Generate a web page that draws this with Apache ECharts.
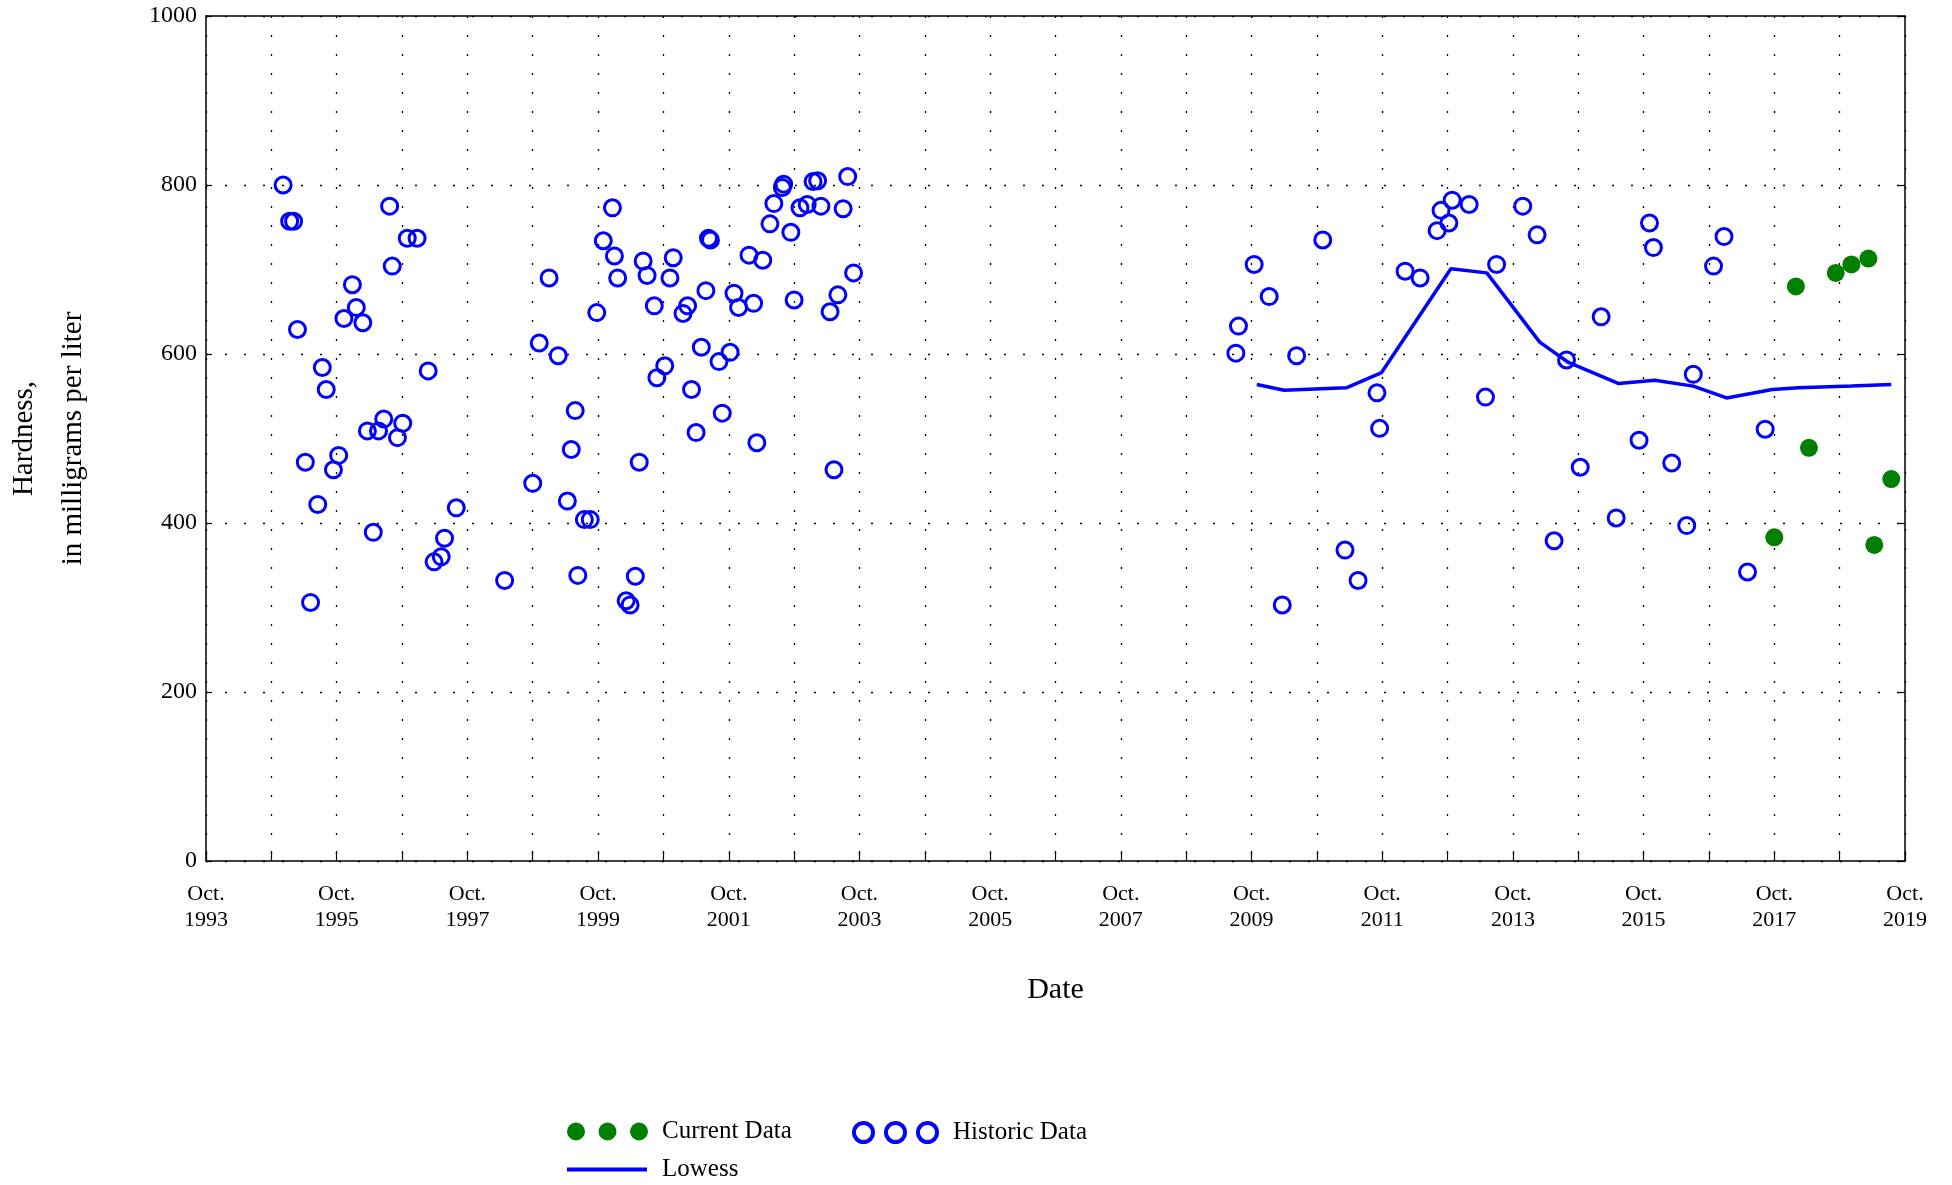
<!DOCTYPE html>
<html>
<head>
<meta charset="utf-8">
<script src="https://cdn.jsdelivr.net/npm/echarts@6/dist/echarts.min.js"></script>
<style>
html,body{margin:0;padding:0;background:#ffffff;}
#chart{width:1952px;height:1185px;}
</style>
</head>
<body>
<div id="chart"></div>
<script>
// ---- Data (dates as decimal years, values in mg/L) ----
const historicDates = [
  1994.93, 1995.03, 1995.09, 1995.15, 1995.27, 1995.35, 1995.46, 1995.53, 1995.59, 1995.70,
  1995.78, 1995.86, 1995.99, 1996.05, 1996.15, 1996.22, 1996.31, 1996.39, 1996.47, 1996.56,
  1996.60, 1996.68, 1996.76, 1996.83, 1996.98, 1997.15, 1997.24, 1997.35, 1997.40, 1997.58,
  1998.32, 1998.75, 1998.85, 1999.00, 1999.14, 1999.28, 1999.34, 1999.40, 1999.44, 1999.54,
  1999.63, 1999.73, 1999.83, 1999.97, 2000.00, 2000.05, 2000.18, 2000.24, 2000.32, 2000.38,
  2000.44, 2000.50, 2000.61, 2000.65, 2000.77, 2000.85, 2000.90, 2001.05, 2001.12, 2001.18,
  2001.25, 2001.33, 2001.40, 2001.44, 2001.47, 2001.60, 2001.65, 2001.77, 2001.83, 2001.90,
  2002.06, 2002.13, 2002.18, 2002.27, 2002.38, 2002.44, 2002.57, 2002.59, 2002.70, 2002.75,
  2002.84, 2002.95, 2003.04, 2003.11, 2003.16, 2003.30, 2003.36, 2003.42, 2003.50, 2003.57,
  2003.66,
  2009.51, 2009.55, 2009.79, 2010.02, 2010.22, 2010.44, 2010.84, 2011.18, 2011.38, 2011.67,
  2011.71, 2012.10, 2012.33, 2012.59, 2012.65, 2012.77, 2012.82, 2013.08, 2013.33, 2013.50,
  2013.90, 2014.12, 2014.38, 2014.57, 2014.78, 2015.10, 2015.33, 2015.68, 2015.84, 2015.90,
  2016.18, 2016.41, 2016.51, 2016.82, 2016.98, 2017.34, 2017.61
];
const historicValues = [
  800, 757, 757, 629, 472, 306, 422, 584, 558, 463,
  480, 642, 682, 655, 637, 509, 389, 509, 523, 775,
  704, 501, 518, 737, 737, 580, 354, 360, 382, 418,
  332, 447, 613, 690, 598, 426, 487, 533, 338, 404,
  404, 649, 734, 773, 716, 690, 308, 303, 337, 472,
  710, 693, 657, 572, 586, 690, 714, 648, 657, 558,
  507, 608, 675, 737, 735, 591, 530, 602, 672, 655,
  717, 660, 495, 711, 754, 778, 797, 801, 744, 664,
  773, 777, 804, 805, 775, 650, 463, 670, 772, 810,
  696,
  601, 633, 706, 668, 303, 598, 735, 368, 332, 554,
  512, 698, 690, 746, 770, 755, 782, 777, 549, 706,
  775, 741, 379, 593, 466, 644, 406, 498, 755, 726,
  471, 397, 576, 704, 739, 342, 511
];
const currentDates  = [2017.75, 2018.08, 2018.28, 2018.69, 2018.93, 2019.19, 2019.28, 2019.54];
const currentValues = [383, 680, 489, 696, 706, 713, 374, 452];
const lowessDates  = [2009.83, 2010.25, 2011.20, 2011.74, 2012.80, 2013.35, 2014.16, 2014.60,
                      2015.37, 2015.92, 2016.51, 2017.02, 2017.72, 2018.12, 2018.93, 2019.54];
const lowessValues = [564, 557, 560, 578, 701, 696, 614, 590,
                      565, 569, 562, 548, 558, 560, 562, 564];
const xTickStartYear = 1993;   // first tick: Oct. 1993
const xTickEndYear = 2019;     // last tick: Oct. 2019
const yTickValues = [0, 200, 400, 600, 800, 1000];
const seriesNames = ['Current Data', 'Historic Data', 'Lowess'];

// ---- Build ----
const ORIGIN = xTickStartYear + 0.75;   // October of the first tick year
const pairs = (d, v) => d.map((x, i) => [x - ORIGIN, v[i]]);
const FONT = 'Liberation Serif';
const BLUE = '#0000ff';
const GREEN = '#007f00';
const DOT = [2, 17];

const chart = echarts.init(document.getElementById('chart'), null, {renderer: 'canvas'});

const dotsIcon = 'path://M0,9a9,9 0 1,0 18,0a9,9 0 1,0 -18,0z M31.5,9a9,9 0 1,0 18,0a9,9 0 1,0 -18,0z M63,9a9,9 0 1,0 18,0a9,9 0 1,0 -18,0z';
function ring(cx) {
  return 'M' + (cx - 11.5) + ',11.5a11.5,11.5 0 1,1 23,0a11.5,11.5 0 1,1 -23,0z ' +
         'M' + (cx - 7.6) + ',11.5a7.6,7.6 0 1,0 15.2,0a7.6,7.6 0 1,0 -15.2,0z';
}
const ringsIcon = 'path://' + ring(11.5) + ' ' + ring(43.5) + ' ' + ring(75.5);

const legendText = {fontFamily: FONT, fontSize: 25, color: '#000', padding: [0, 0, 0, 9]};

const option = {
  animation: false,
  backgroundColor: '#ffffff',
  grid: {left: 206, right: 47, top: 16, bottom: 324, containLabel: false, outerBoundsMode: 'none'},
  legend: [
    {data: [seriesNames[0]], left: 567, top: 1119, padding: 0, itemWidth: 81, itemHeight: 18,
     icon: dotsIcon, selectedMode: false, textStyle: legendText},
    {data: [seriesNames[1]], left: 852, top: 1120, padding: 0, itemWidth: 87, itemHeight: 23,
     icon: ringsIcon, selectedMode: false, textStyle: legendText,
     itemStyle: {color: BLUE, borderWidth: 0}},
    {data: [seriesNames[2]], left: 567, top: 1157, padding: 0, itemWidth: 80, itemHeight: 4,
     icon: 'rect', selectedMode: false, textStyle: Object.assign({}, legendText, {padding: [0, 0, 0, 10]}),
     itemStyle: {color: BLUE, borderWidth: 0}}
  ],
  xAxis: [
    {
      type: 'value', position: 'bottom',
      min: 0, max: xTickEndYear - xTickStartYear, interval: 1,
      name: 'Date', nameLocation: 'middle', nameGap: 114,
      nameTextStyle: {fontFamily: FONT, fontSize: 30, color: '#000'},
      axisLine: {show: true, onZero: false, lineStyle: {color: '#000', width: 1.5}},
      axisTick: {show: true, inside: true, length: 10, lineStyle: {color: '#000', width: 1.2}},
      axisLabel: {
        show: true, margin: 20, showMinLabel: true, showMaxLabel: true,
        fontFamily: FONT, fontSize: 22, lineHeight: 26, color: '#000',
        formatter: function (v) {
          const k = Math.round(v);
          return (k % 2 === 0) ? 'Oct.\n' + (xTickStartYear + k) : '';
        }
      },
      splitLine: {show: true, lineStyle: {color: '#000', width: 1.3, type: DOT}}
    },
    {
      type: 'value', position: 'top',
      min: 0, max: xTickEndYear - xTickStartYear, interval: 1,
      axisLine: {show: true, onZero: false, lineStyle: {color: '#000', width: 1.5}},
      axisTick: {show: false}, axisLabel: {show: false}, splitLine: {show: false}
    }
  ],
  yAxis: [
    {
      type: 'value', position: 'left',
      min: yTickValues[0], max: yTickValues[yTickValues.length - 1],
      interval: yTickValues[1] - yTickValues[0],
      name: 'Hardness,\nin milligrams per liter', nameLocation: 'middle', nameRotate: 90, nameGap: 108,
      nameTextStyle: {fontFamily: FONT, fontSize: 29, lineHeight: 49, color: '#000', align: 'center'},
      axisLine: {show: true, onZero: false, lineStyle: {color: '#000', width: 1.5}},
      axisTick: {show: true, inside: true, length: 6, lineStyle: {color: '#000', width: 1.2}},
      axisLabel: {show: true, margin: 9, fontFamily: FONT, fontSize: 24, color: '#000',
                  showMinLabel: true, showMaxLabel: true,
                  formatter: function (v) { return String(v); }},
      splitLine: {show: true, lineStyle: {color: '#000', width: 1.3, type: DOT}}
    },
    {
      type: 'value', position: 'right',
      min: yTickValues[0], max: yTickValues[yTickValues.length - 1],
      interval: yTickValues[1] - yTickValues[0],
      axisLine: {show: true, onZero: false, lineStyle: {color: '#000', width: 1.5}},
      axisTick: {show: true, inside: true, length: 6, lineStyle: {color: '#000', width: 1.2}},
      axisLabel: {show: false}, splitLine: {show: false}
    }
  ],
  series: [
    {
      name: seriesNames[0], type: 'scatter', xAxisIndex: 0, yAxisIndex: 0,
      data: pairs(currentDates, currentValues),
      symbol: 'circle', symbolSize: 18,
      itemStyle: {color: GREEN, opacity: 1},
      z: 4
    },
    {
      name: seriesNames[1], type: 'scatter', xAxisIndex: 0, yAxisIndex: 0,
      data: pairs(historicDates, historicValues),
      symbol: 'circle', symbolSize: 16,
      itemStyle: {color: 'rgba(0,0,0,0)', borderColor: BLUE, borderWidth: 3, opacity: 1},
      z: 3
    },
    {
      name: seriesNames[2], type: 'line', xAxisIndex: 0, yAxisIndex: 0,
      data: pairs(lowessDates, lowessValues),
      showSymbol: false, symbol: 'none', smooth: false,
      color: BLUE,
      lineStyle: {color: BLUE, width: 3.5},
      itemStyle: {color: BLUE},
      z: 2
    }
  ]
};
chart.setOption(option);
</script>
</body>
</html>
